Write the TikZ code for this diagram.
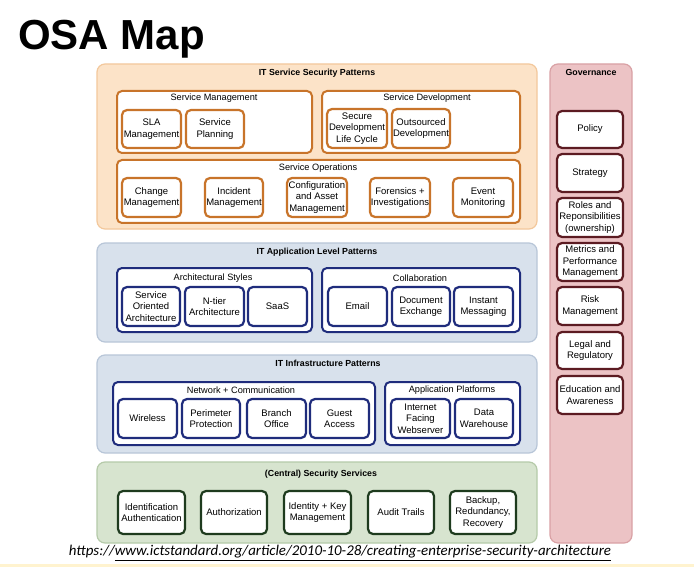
\documentclass[tikz,border=0pt]{standalone}
\usepackage{fontspec}
\setmainfont{Liberation Sans}
\newfontfamily\urlfont{Carlito}
\definecolor{orFill}{HTML}{FCE3C8}
\definecolor{orEdge}{HTML}{F3C89C}
\definecolor{orLine}{HTML}{C8742A}
\definecolor{blFill}{HTML}{D8E1EC}
\definecolor{blEdge}{HTML}{B8C6D8}
\definecolor{blLine}{HTML}{1F2C7C}
\definecolor{grFill}{HTML}{D7E4CF}
\definecolor{grEdge}{HTML}{B5CAA9}
\definecolor{grLine}{HTML}{1E3B1E}
\definecolor{pkFill}{HTML}{ECC3C5}
\definecolor{pkEdge}{HTML}{D9A1A5}
\definecolor{pkLine}{HTML}{5C1B22}
\definecolor{baseLine}{HTML}{FFF3CF}
\newcommand\bx[7]{\node[#2, minimum width={#5-#3}, minimum height={#6-#4}] (#1) at ({(#3+#5)/2},{(#4+#6)/2}) {#7};}
\tikzset{
  outer/.style={rectangle, rounded corners=8pt, line width=1.2pt, inner sep=0pt},
  orOuter/.style={outer, fill=orFill, draw=orEdge},
  blOuter/.style={outer, fill=blFill, draw=blEdge},
  grOuter/.style={outer, fill=grFill, draw=grEdge},
  pkOuter/.style={outer, fill=pkFill, draw=pkEdge},
  grp/.style={rectangle, rounded corners=5pt, fill=white, line width=2pt, inner sep=0pt},
  item/.style={rectangle, rounded corners=5pt, fill=white, line width=2.2pt, inner sep=0pt,
    align=center, font=\fontsize{9.5}{11.5}\selectfont},
  orGrp/.style={grp, draw=orLine},
  blGrp/.style={grp, draw=blLine},
  orItem/.style={item, draw=orLine},
  blItem/.style={item, draw=blLine},
  grItem/.style={item, draw=grLine},
  pkItem/.style={item, draw=pkLine},
  mainTitle/.style={font=\bfseries\fontsize{8.8}{10}\selectfont, inner sep=0pt},
  subTitle/.style={font=\fontsize{9.2}{10}\selectfont, inner sep=0pt},
}
\begin{document}
\begin{tikzpicture}[x=1pt, y=-1pt]
\useasboundingbox (0,0) rectangle (694,567);
\fill[white] (0,0) rectangle (694,567);
\fill[baseLine] (0,564) rectangle (694,567);

\node[anchor=base west, inner sep=0pt, font=\bfseries\fontsize{42}{46}\selectfont] (title) at (18,50) {OSA Map};

% ---------- IT Service Security Patterns ----------
\bx{svc}{orOuter}{97}{64}{537}{229}{}
\node[mainTitle] (svcT) at (317,73) {IT Service Security Patterns};
\bx{sm}{orGrp}{117}{91}{312}{153}{}
\node[subTitle] (smT) at (214,98) {Service Management};
\bx{sla}{orItem}{122}{110}{181}{148}{SLA\\Management}
\bx{plan}{orItem}{186}{110}{244}{148}{Service\\Planning}
\bx{sd}{orGrp}{322}{91}{520}{153}{}
\node[subTitle] (sdT) at (427,98) {Service Development};
\bx{sdlc}{orItem}{327}{109}{387}{148}{Secure\\Development\\Life Cycle}
\bx{outs}{orItem}{392}{109}{450}{148}{Outsourced\\Development}
\bx{ops}{orGrp}{117}{160}{520}{223}{}
\node[subTitle] (opsT) at (318,168) {Service Operations};
\bx{chg}{orItem}{122}{178}{181}{217}{Change\\Management}
\bx{inc}{orItem}{205}{178}{263}{217}{Incident\\Management}
\bx{cfg}{orItem}{287}{178}{347}{217}{Configuration\\and Asset\\Management}
\bx{for}{orItem}{370}{178}{430}{217}{Forensics +\\Investigations}
\bx{evt}{orItem}{453}{178}{513}{217}{Event\\Monitoring}

% ---------- IT Application Level Patterns ----------
\bx{app}{blOuter}{97}{243}{537}{342}{}
\node[mainTitle] (appT) at (317,252) {IT Application Level Patterns};
\bx{arch}{blGrp}{117}{268}{312}{332}{}
\node[subTitle] (archT) at (213,278) {Architectural Styles};
\bx{soa}{blItem}{122}{287}{180}{326}{Service\\Oriented\\Architecture}
\bx{ntier}{blItem}{185}{287}{244}{326}{N-tier\\Architecture}
\bx{saas}{blItem}{248}{287}{307}{326}{SaaS}
\bx{col}{blGrp}{322}{268}{520}{332}{}
\node[subTitle] (colT) at (420,278) {Collaboration};
\bx{mail}{blItem}{328}{287}{387}{326}{Email}
\bx{doc}{blItem}{392}{287}{450}{326}{Document\\Exchange}
\bx{im}{blItem}{454}{287}{513}{326}{Instant\\Messaging}

% ---------- IT Infrastructure Patterns ----------
\bx{inf}{blOuter}{97}{355}{537}{453}{}
\node[mainTitle] (infT) at (328,363) {IT Infrastructure Patterns};
\bx{net}{blGrp}{113}{382}{375}{445}{}
\node[subTitle] (netT) at (241,390) {Network + Communication};
\bx{wl}{blItem}{118}{399}{177}{438}{Wireless}
\bx{per}{blItem}{182}{399}{240}{438}{Perimeter\\Protection}
\bx{br}{blItem}{247}{399}{306}{438}{Branch\\Office}
\bx{gu}{blItem}{310}{399}{369}{438}{Guest\\Access}
\bx{plat}{blGrp}{385}{382}{520}{445}{}
\node[subTitle] (platT) at (452,390) {Application Platforms};
\bx{web}{blItem}{391}{399}{450}{438}{Internet\\Facing\\Webserver}
\bx{dw}{blItem}{455}{399}{513}{438}{Data\\Warehouse}

% ---------- (Central) Security Services ----------
\bx{css}{grOuter}{97}{462}{537}{543}{}
\node[mainTitle] (cssT) at (321,474) {(Central) Security Services};
\bx{idn}{grItem}{118}{491}{185}{534}{Identification\\Authentication}
\bx{auth}{grItem}{201}{491}{267}{534}{Authorization}
\bx{key}{grItem}{284}{491}{351}{534}{Identity + Key\\Management}
\bx{aud}{grItem}{368}{491}{434}{534}{Audit Trails}
\bx{bak}{grItem}{450}{491}{516}{534}{Backup,\\Redundancy,\\Recovery}

% ---------- Governance ----------
\bx{gov}{pkOuter}{550}{64}{632}{543}{}
\node[mainTitle] (govT) at (591,72) {Governance};
\bx{pol}{pkItem}{557}{111}{623}{148}{Policy}
\bx{str}{pkItem}{557}{154}{623}{192}{Strategy}
\bx{rol}{pkItem}{557}{198}{623}{237}{Roles and\\Reponsibilities\\(ownership)}
\bx{met}{pkItem}{557}{243}{623}{281}{Metrics and\\Performance\\Management}
\bx{risk}{pkItem}{557}{287}{623}{325}{Risk\\Management}
\bx{leg}{pkItem}{557}{332}{623}{369}{Legal and\\Regulatory}
\bx{edu}{pkItem}{557}{376}{623}{414}{Education and\\Awareness}

% ---------- source ----------
\node[inner sep=0pt, font=\urlfont\itshape\fontsize{14.9}{16}\selectfont] (src) at (340,553)
  {https://\underline{www.ictstandard.org/article/2010-10-28/creating-enterprise-security-architecture}};
\end{tikzpicture}
\end{document}
